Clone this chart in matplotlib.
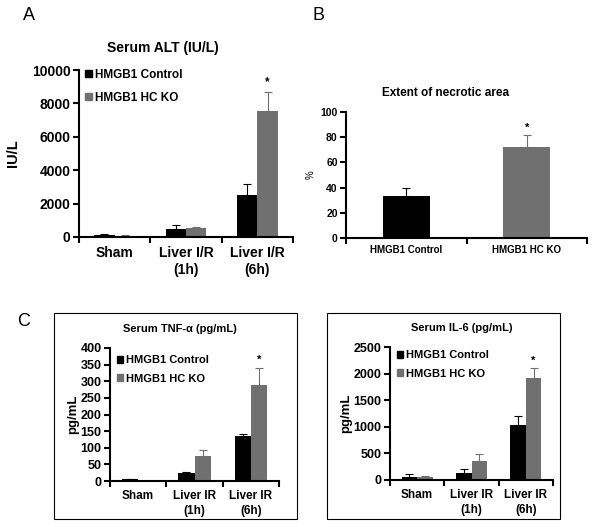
import matplotlib
matplotlib.use("Agg")
from matplotlib import pyplot as plt
from matplotlib.patches import Patch, Rectangle

plt.rcParams['font.family'] = ['Liberation Sans', 'DejaVu Sans']
plt.rcParams['font.weight'] = 'bold'

BLACK = "#000000"
GRAY = "#707070"
SERIES = ["HMGB1 Control", "HMGB1 HC KO"]

# panel A - serum ALT
alt_groups = ["Sham", "Liver I/R\n(1h)", "Liver I/R\n(6h)"]
alt_ctrl = [100, 480, 2500]
alt_ctrl_err = [50, 220, 680]
alt_ko = [80, 520, 7550]
alt_ko_err = [20, 60, 1130]

# panel B - necrotic area
nec_groups = ["HMGB1 Control", "HMGB1 HC KO"]
nec_vals = [33.5, 72]
nec_err = [6.5, 9.5]

# panel C - TNF-a and IL-6
cyt_groups = ["Sham", "Liver IR\n(1h)", "Liver IR\n(6h)"]
tnf_ctrl = [5, 25, 135]
tnf_ctrl_err = [2, 3, 7]
tnf_ko = [1, 75, 290]
tnf_ko_err = [0.5, 17, 50]
il6_ctrl = [60, 130, 1040]
il6_ctrl_err = [50, 70, 170]
il6_ko = [55, 360, 1910]
il6_ko_err = [25, 120, 190]

W, H = 600, 527
fig = plt.figure(figsize=(6, 5.27), dpi=100)


def px_axes(left, right, top, bottom):
    return fig.add_axes([left / W, 1 - bottom / H, (right - left) / W, (bottom - top) / H])


def style_axes(ax, n, xfs, yfs, xpad=4):
    for s in ["top", "right"]:
        ax.spines[s].set_visible(False)
    for s in ["left", "bottom"]:
        ax.spines[s].set_linewidth(1.5)
    ax.set_xlim(-0.5, n - 0.5)
    ax.set_xticks(range(n))
    ax.set_xticks([i - 0.5 for i in range(n + 1)], minor=True)
    ax.tick_params(axis="x", which="major", length=0, pad=xpad, labelsize=xfs)
    ax.tick_params(axis="x", which="minor", length=4, width=1.5, direction="out")
    ax.tick_params(axis="y", length=4, width=1.5, direction="out", labelsize=yfs, pad=2)
    for lab in ax.get_xticklabels() + ax.get_yticklabels():
        lab.set_fontweight("bold")


def grouped(ax, groups, ctrl, ctrl_err, ko, ko_err, ymax, ystep, xfs, yfs, lfs,
            ylabel, ylab_x, star_pad, leg_y, leg_sp):
    n = len(groups)
    b = 0.286
    xs = list(range(n))
    ax.bar([x - b / 2 for x in xs], ctrl, b, color=BLACK, label=SERIES[0])
    ax.bar([x + b / 2 for x in xs], ko, b, color=GRAY, label=SERIES[1])
    ax.errorbar([x - b / 2 for x in xs], ctrl, yerr=[[0] * n, ctrl_err], fmt="none",
                ecolor=BLACK, elinewidth=0.8, capsize=3, capthick=0.8)
    ax.errorbar([x + b / 2 for x in xs], ko, yerr=[[0] * n, ko_err], fmt="none",
                ecolor=GRAY, elinewidth=0.8, capsize=3, capthick=0.8)
    ax.set_ylim(0, ymax)
    ax.set_yticks(range(0, ymax + 1, ystep))
    ax.set_xticklabels(groups, linespacing=1.3)
    style_axes(ax, n, xfs, yfs, xpad=6.5)
    ax.set_ylabel(ylabel, fontsize=yfs + 0.5, fontweight="bold")
    ax.yaxis.set_label_coords(ylab_x, 0.5)
    ax.text(xs[-1] + b / 2, ko[-1] + ko_err[-1] + star_pad, "*", ha="center", va="bottom",
            fontsize=lfs, fontweight="bold")
    handles = [Patch(color=BLACK), Patch(color=GRAY)]
    ax.legend(handles, SERIES, loc="upper left", bbox_to_anchor=(-0.02, leg_y), frameon=False,
              handlelength=0.55, handleheight=0.55, handletextpad=0.3, labelspacing=leg_sp,
              prop={"weight": "bold", "size": lfs})


# A
axA = px_axes(79, 293, 70, 237)
grouped(axA, alt_groups, alt_ctrl, alt_ctrl_err, alt_ko, alt_ko_err, 10000, 2000, 10, 10, 8.5,
        "IU/L", -0.275, 250, 1.07, 0.9)
fig.text(163 / W, 1 - 48 / H, "Serum ALT (IU/L)", ha="center", va="center", fontsize=10, fontweight="bold")

# B
axB = px_axes(346, 587, 112, 238)
axB.bar(range(2), nec_vals, 0.39, color=[BLACK, GRAY])
for i in range(2):
    axB.errorbar(i, nec_vals[i], yerr=[[0], [nec_err[i]]], fmt="none",
                 ecolor=[BLACK, GRAY][i], elinewidth=0.8, capsize=3, capthick=0.8)
axB.set_ylim(0, 100)
axB.set_yticks(range(0, 101, 20))
axB.set_xticklabels(nec_groups)
style_axes(axB, 2, 7, 7.5, xpad=5)
axB.set_ylabel("%", fontsize=7, fontweight="normal")
axB.yaxis.set_label_coords(-0.124, 0.5)
axB.text(1, nec_vals[1] + nec_err[1] + 2, "*", ha="center", va="bottom", fontsize=8, fontweight="bold")
fig.text(446 / W, 1 - 93 / H, "Extent of necrotic area", ha="center", va="center", fontsize=8.5, fontweight="bold")

# C boxes
for l, r in [(54, 297), (327, 560)]:
    fig.patches.append(Rectangle((l / W, 1 - 519 / H), (r - l) / W, (519 - 313) / H,
                                 transform=fig.transFigure, fill=False, edgecolor="black", linewidth=0.8))

axC1 = px_axes(110, 279, 348, 481)
grouped(axC1, cyt_groups, tnf_ctrl, tnf_ctrl_err, tnf_ko, tnf_ko_err, 400, 50, 8.5, 9, 8,
        "pg/mL", -0.18, 8, 1.02, 0.75)
fig.text(180 / W, 1 - 329 / H, "Serum TNF-α (pg/mL)", ha="center", va="center", fontsize=8, fontweight="bold")

axC2 = px_axes(390, 553, 347, 480)
grouped(axC2, cyt_groups, il6_ctrl, il6_ctrl_err, il6_ko, il6_ko_err, 2500, 500, 8.5, 9, 8,
        "pg/mL", -0.235, 40, 1.05, 0.75)
fig.text(462 / W, 1 - 328 / H, "Serum IL-6 (pg/mL)", ha="center", va="center", fontsize=8, fontweight="bold")

# panel letters
for x, y, s in [(29, 15, "A"), (318, 15, "B"), (24, 322, "C")]:
    fig.text(x / W, 1 - y / H, s, ha="center", va="center", fontsize=13, fontweight="normal")

fig.savefig("out.png", dpi=100)
